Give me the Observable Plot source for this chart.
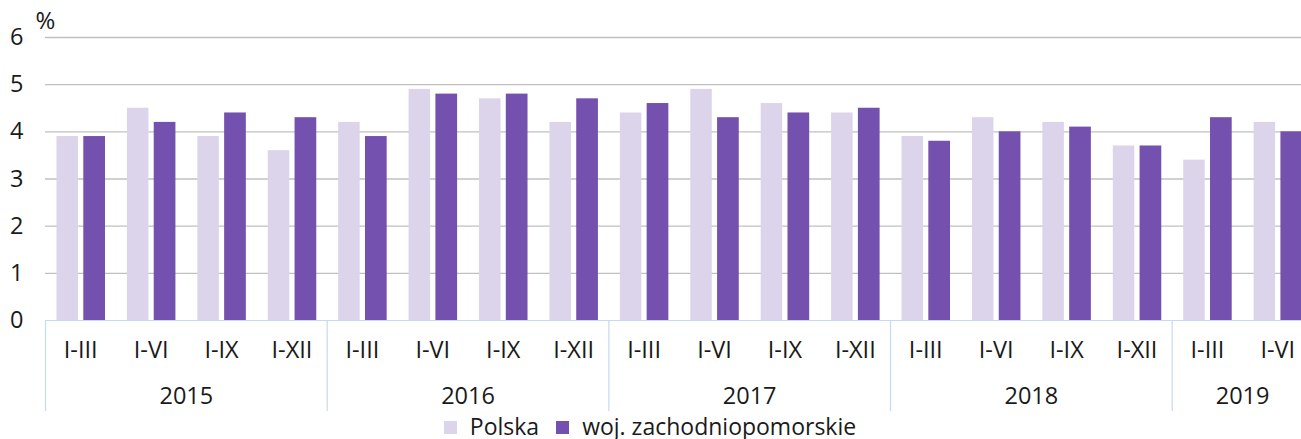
<!DOCTYPE html>
<html>
<head>
<meta charset="utf-8">
<script src="https://cdn.jsdelivr.net/npm/d3@7"></script>
<script src="https://cdn.jsdelivr.net/npm/@observablehq/plot@0.6"></script>
<style>
  body { margin: 0; background: #fff; font-family: "Open Sans", sans-serif; color: #1a1a1a; }
  #wrap { width: 1301px; overflow: hidden; }
  #legend { display: flex; justify-content: center; align-items: flex-start; height: 23px; font-size: 23px; line-height: 21px; padding-left: 16px; }
  .sw { display: inline-block; width: 13px; height: 13px; margin-right: 13px; position: relative; top: 1px; }
  .item { display: inline-flex; align-items: center; margin-right: 17px; }
</style>
</head>
<body>
<div id="wrap"><div id="chart"></div>
<div id="legend"></div></div>
<script>
const periods = ["I-III","I-VI","I-IX","I-XII","I-III","I-VI","I-IX","I-XII","I-III","I-VI","I-IX","I-XII","I-III","I-VI","I-IX","I-XII","I-III","I-VI"];
const periodYears = ["2015","2015","2015","2015","2016","2016","2016","2016","2017","2017","2017","2017","2018","2018","2018","2018","2019","2019"];
const polska = [3.9,4.5,3.9,3.6, 4.2,4.9,4.7,4.2, 4.4,4.9,4.6,4.4, 3.9,4.3,4.2,3.7, 3.4,4.2];
const woj = [3.9,4.2,4.4,4.3, 3.9,4.8,4.8,4.7, 4.6,4.3,4.4,4.5, 3.8,4.0,4.1,3.7, 4.3,4.0];
const yTicks = [0,1,2,3,4,5,6];
const seriesNames = ["Polska","woj. zachodniopomorskie"];
const colors = ["#dcd4ea","#7451ae"];

const rows = periods.map((p, i) => ({i, period: p, year: periodYears[i], polska: polska[i], woj: woj[i]}));
const yearGroups = d3.groups(rows, d => d.year).map(([year, rs]) => ({year, start: rs[0].i, center: rs[0].i + rs.length / 2}));
const n = periods.length;
const band = (1171.7 - 45) / 16;
const FONT = "'Open Sans', sans-serif";

const chart = Plot.plot({
  width: 1301,
  height: 416,
  marginLeft: 45,
  marginRight: 0,
  marginTop: 37,
  marginBottom: 96,
  style: {fontFamily: FONT, fontSize: "23.5px", color: "#1a1a1a", overflow: "hidden"},
  x: {type: "linear", domain: [0, n], range: [45, 45 + n * band]},
  y: {domain: [0, 6]},
  marks: [
    Plot.ruleY(yTicks.filter(v => v > 0), {stroke: "#c0c0c0", strokeWidth: 1.4}),
    Plot.rectY(rows, {x1: d => d.i, x2: d => d.i + 1, y1: 0, y2: "polska", fill: colors[0], insetLeft: 11.5, insetRight: band - 33}),
    Plot.rectY(rows, {x1: d => d.i, x2: d => d.i + 1, y1: 0, y2: "woj", fill: colors[1], insetLeft: 38.3, insetRight: band - 60}),
    Plot.ruleY([0], {stroke: "#c6d9f0", strokeWidth: 1.2}),
    Plot.axisX(yearGroups.map(d => d.start), {tickSize: 91, tickFormat: () => "", label: null, stroke: "#c6d9f0", strokeWidth: 1.2, strokeOpacity: 1}),
    Plot.text(rows, {x: d => d.i + 0.5, text: "period", frameAnchor: "bottom", lineAnchor: "middle", dy: 29.5, fill: "#1a1a1a", fontSize: 23.5, fontFamily: FONT}),
    Plot.text(yearGroups, {x: "center", text: "year", frameAnchor: "bottom", lineAnchor: "middle", dy: 76, fill: "#1a1a1a", fontSize: 23.5, fontFamily: FONT}),
    Plot.axisY(yTicks, {tickSize: 0, tickPadding: 22, label: null, fontSize: 23.5, fill: "#1a1a1a"}),
    Plot.text(["%"], {frameAnchor: "top-left", lineAnchor: "middle", text: d => d, dy: -16, textAnchor: "middle", fontSize: 24, fill: "#1a1a1a", fontFamily: FONT})
  ]
});
document.getElementById("chart").appendChild(chart);

const legend = document.getElementById("legend");
seriesNames.forEach((name, k) => {
  const item = document.createElement("span");
  item.className = "item";
  const sw = document.createElement("span");
  sw.className = "sw";
  sw.style.background = colors[k];
  item.appendChild(sw);
  item.appendChild(document.createTextNode(name));
  legend.appendChild(item);
});
</script>
</body>
</html>
